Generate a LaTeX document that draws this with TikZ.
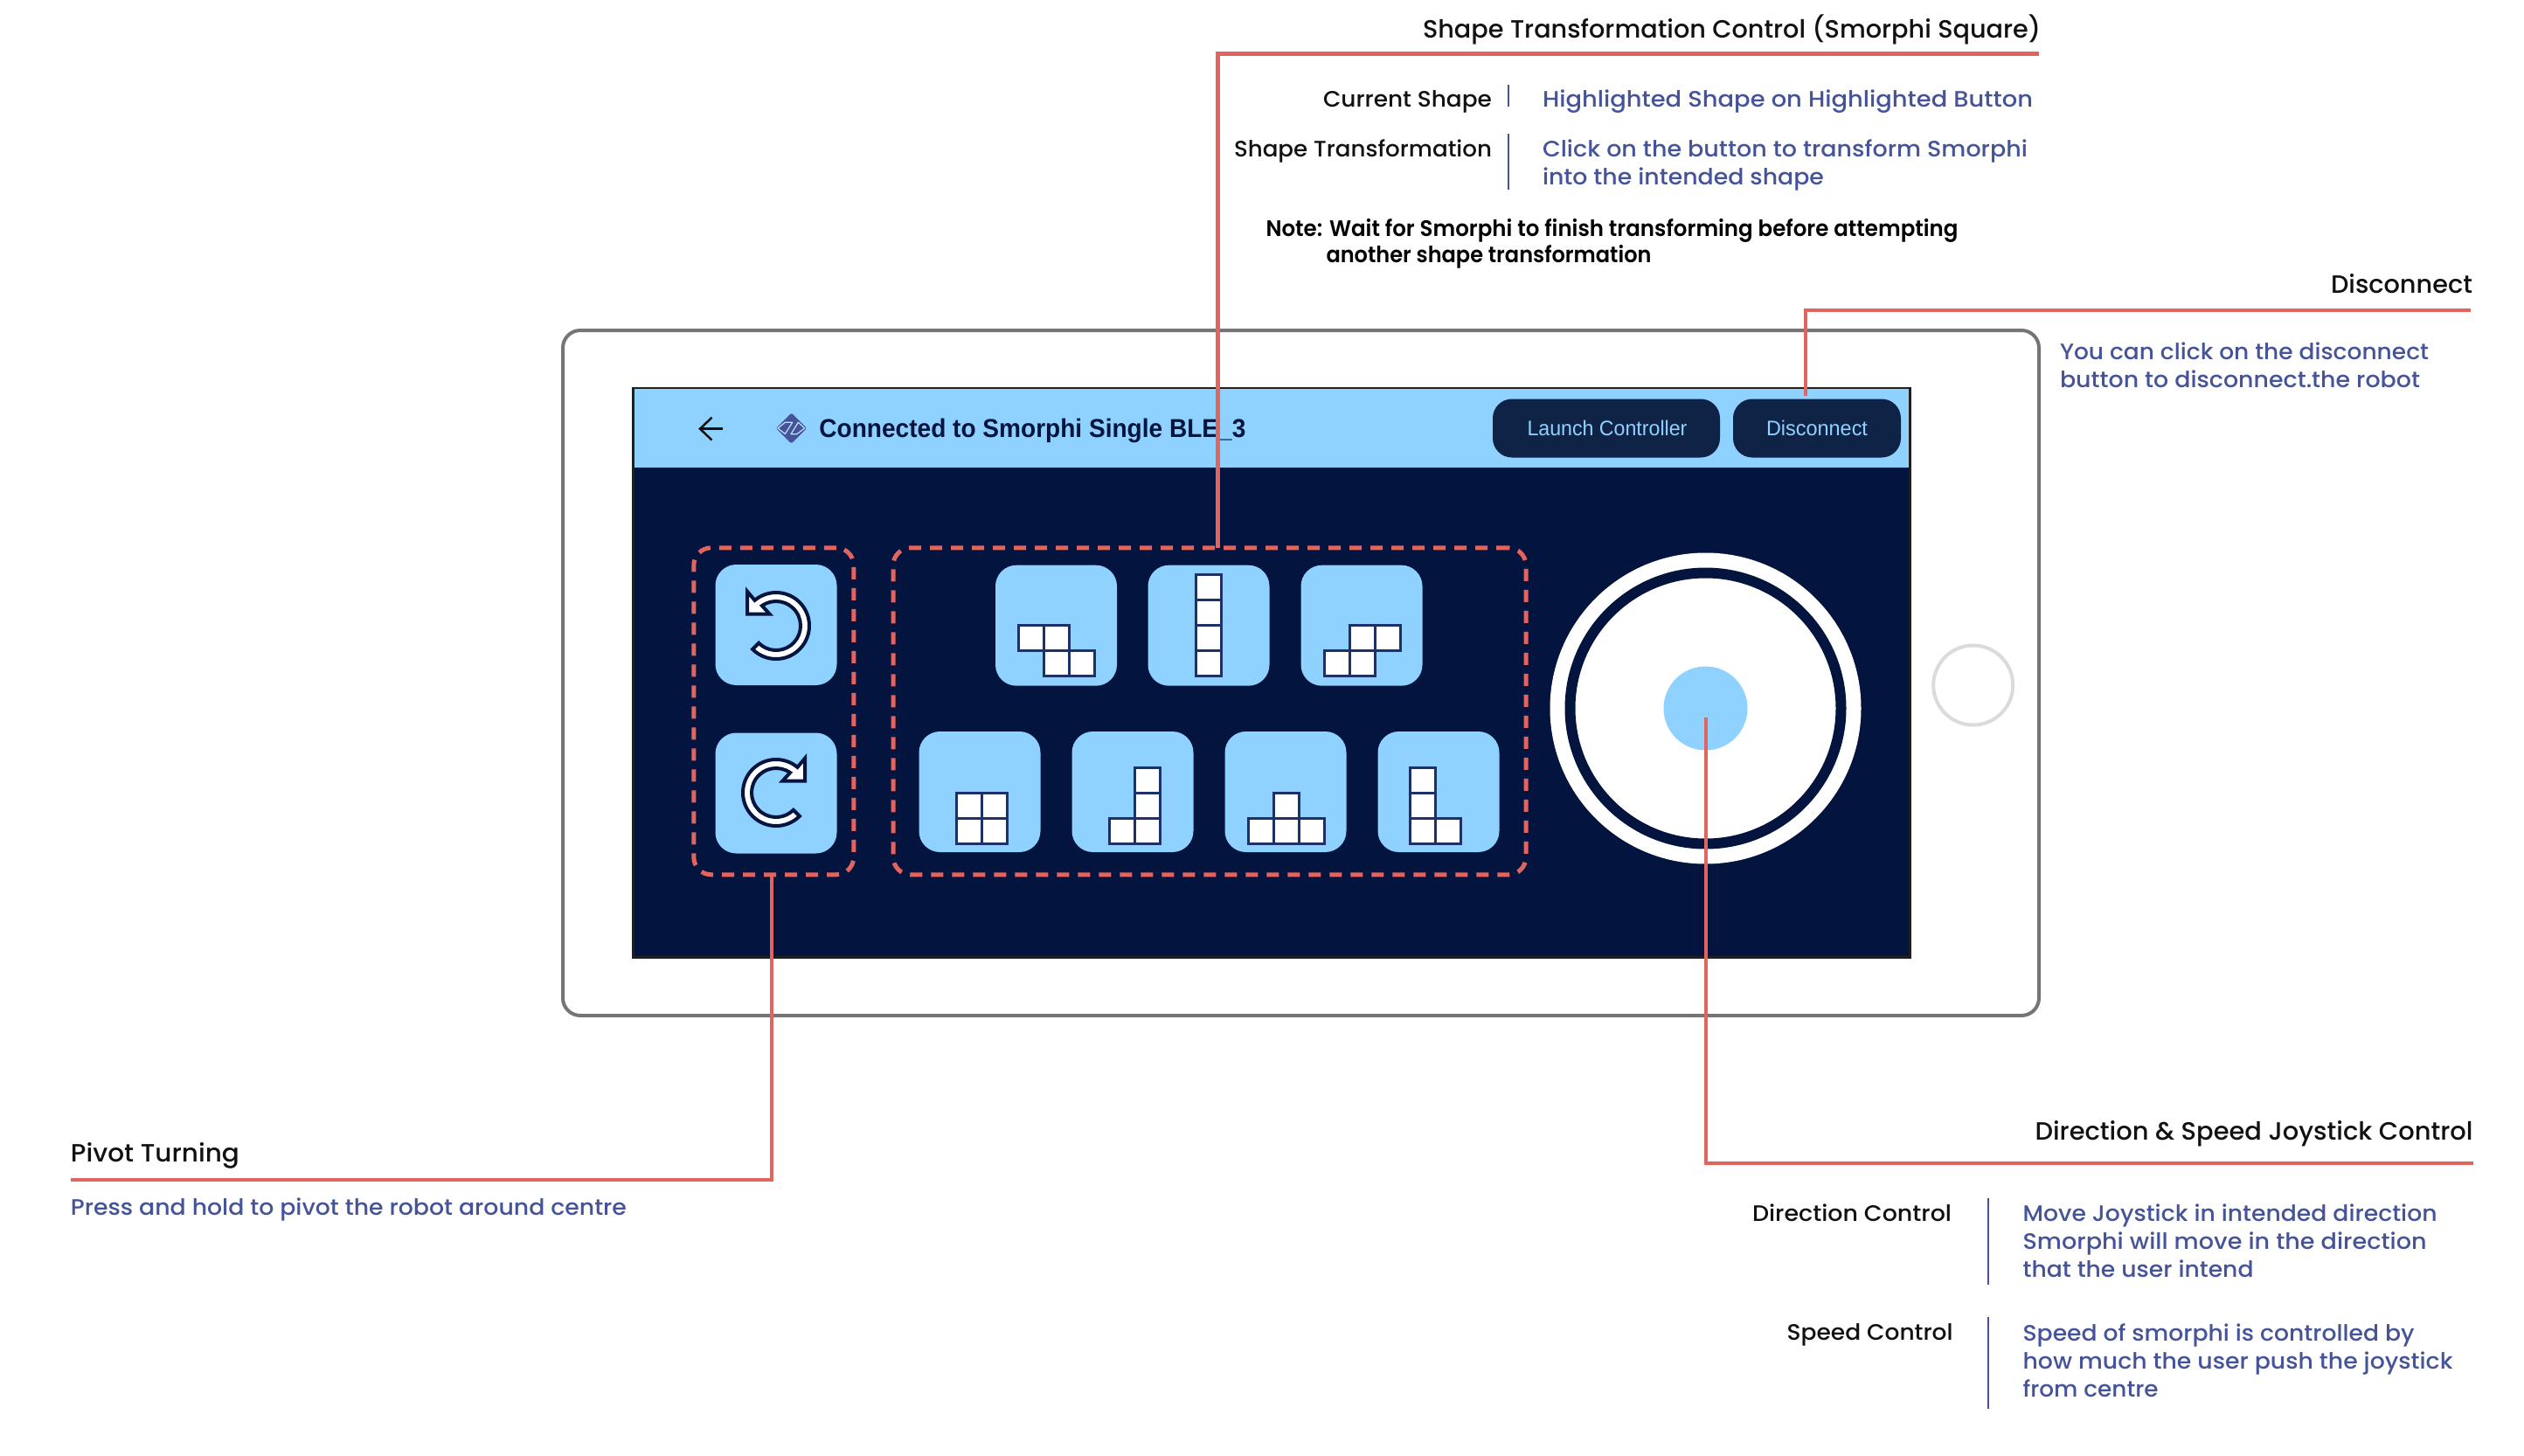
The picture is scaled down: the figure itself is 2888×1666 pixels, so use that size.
\documentclass[tikz,border=0pt]{standalone}
\usepackage{fontspec}
\setmainfont{Poppins}
\newfontfamily\medf{Poppins Medium}
\newfontfamily\notef{Poppins SemiBold}
\newfontfamily\appbold{Liberation Sans Bold}
\newfontfamily\appmed{Liberation Sans}
\usetikzlibrary{shapes.geometric}
\definecolor{skyb}{HTML}{8FD1FF}
\definecolor{navybg}{HTML}{03143F}
\definecolor{navybtn}{HTML}{0F2347}
\definecolor{redl}{HTML}{E2645F}
\definecolor{bluet}{HTML}{455398}
\definecolor{blackt}{HTML}{111111}
\definecolor{cellb}{HTML}{1C3069}
\newsavebox\fitbox
\newcommand\fitw[2]{\sbox\fitbox{#2}\pgfmathsetmacro\fitr{(#1*0.5)/(\wd\fitbox)}\scalebox{\fitr}[1]{\usebox\fitbox}}
\tikzset{
  px/.style 2 args={minimum width=#1*0.5pt,minimum height=#2*0.5pt,inner sep=0pt,outer sep=0pt},
  device/.style={draw=black!54,line width=2pt,rounded corners=10pt,fill=white},
  screen/.style={draw=black!88,line width=1.5pt,fill=navybg},
  header/.style={fill=skyb},
  sqbtn/.style={fill=skyb,rounded corners=12pt},
  topbtn/.style={fill=navybtn,rounded corners=11pt},
  dashbox/.style={draw=redl,line width=2.5pt,rounded corners=10pt,dash pattern=on 7pt off 5pt},
  redline/.style={draw=redl,line width=2.4pt,line join=miter},
  sepline/.style={draw=bluet,line width=1pt},
  title/.style={font=\medf\fontsize{14.3}{16}\selectfont,text=blackt,inner sep=0pt,outer sep=0pt},
  lab/.style={font=\medf\fontsize{12.8}{16}\selectfont,text=blackt,inner sep=0pt,outer sep=0pt},
  desc/.style={font=\medf\fontsize{12.8}{16}\selectfont,text=bluet,inner sep=0pt,outer sep=0pt,align=left},
  notet/.style={font=\notef\fontsize{12.8}{15}\selectfont,text=black,inner sep=0pt,outer sep=0pt,align=left},
  cellsq/.style={draw=cellb,line width=1.5pt,fill=white},
  rotarrow/.style={draw=navybg,line width=2pt,fill=white,line join=miter},
}
\newcommand\cellset[3]{\foreach \cx/\cy in {#3}{\draw[cellsq] (#1+\cx*29,#2+\cy*29) rectangle ++(29,29);}}
\newcommand\rotpath{(225:38) arc[start angle=225,end angle=490,radius=38] -- (-33,39.3) -- (-33,13.3) -- (-7.3,13.3) -- (125:28) arc[start angle=485,end angle=225,radius=28] -- cycle}
\begin{document}
\begin{tikzpicture}[x=0.5pt,y=-0.5pt]
\useasboundingbox (0,0) rectangle (2888,1666);
% device and screen
\node[device,px={1689}{784}] (dev) at (1488.5,770) {};
\node[draw=black!14,line width=2pt,circle,px={91}{91}] (home) at (2257.7,784) {};
\node[screen,px={1461}{651}] (scr) at (1454.5,769.5) {};
\node[header,px={1458}{90}] (head) at (1454.5,490) {};
% header content
\coordinate (backtail) at (827,490.7);
\coordinate (backtip) at (801,490.7);
\coordinate (backup) at (814.5,477.7);
\coordinate (backdn) at (814.5,503.5);
\draw[draw=blackt,line width=1.25pt] (backtail) -- (backtip);
\draw[draw=blackt,line width=1.25pt] (backup) -- (backtip) -- (backdn);
\node[diamond,fill=bluet,px={35}{35},aspect=1,rounded corners=1pt] (logo) at (905.5,490) {};
\draw[draw=skyb!60!white,line width=0.6pt,line join=round] (890,490) -- (898.3,483.3) -- (906.7,483.3) -- (898.3,496.5) -- cycle (913.3,483.3) -- (920.7,490) -- (911.7,496.7) -- (905,496.7) -- cycle;
\node[anchor=base west,font=\appbold\fontsize{14.8}{16}\selectfont,text=navybg,inner sep=0pt] (conn) at (937,500) {\fitw{488}{Connected to Smorphi Single BLE\_3}};
\node[topbtn,px={260}{67}] (launch) at (1838,490) {};
\node[anchor=base,font=\appmed\fontsize{12}{14}\selectfont,text=skyb,inner sep=0pt] (launcht) at (1839,498) {\fitw{183}{Launch Controller}};
\node[topbtn,px={192}{67}] (disc) at (2079,490) {};
\node[anchor=base,font=\appmed\fontsize{12}{14}\selectfont,text=skyb,inner sep=0pt] (disct) at (2079,498) {\fitw{116}{Disconnect}};
% pivot group
\node[dashbox,px={183}{374}] (pivot) at (885.3,813.8) {};
\node[sqbtn,px={139}{138}] (ccw) at (888,715) {};
\node[sqbtn,px={139}{138}] (cw) at (888,907.5) {};
\begin{scope}[shift={(888,716)},x=0.5pt,y=0.5pt]
\draw[rotarrow] \rotpath;
\end{scope}
\begin{scope}[shift={(888,907)},x=-0.5pt,y=0.5pt]
\draw[rotarrow] \rotpath;
\end{scope}
% shape group
\node[dashbox,px={724}{374}] (shapes) at (1384,813.8) {};
\node[sqbtn,px={139}{138}] (b1) at (1208.5,715.7) {};
\node[sqbtn,px={139}{138}] (b2) at (1383,715.7) {};
\node[sqbtn,px={139}{138}] (b3) at (1558,715.7) {};
\node[sqbtn,px={139}{138}] (b4) at (1121,906) {};
\node[sqbtn,px={139}{138}] (b5) at (1296,906) {};
\node[sqbtn,px={139}{138}] (b6) at (1471,906) {};
\node[sqbtn,px={139}{138}] (b7) at (1646,906) {};
\cellset{1165}{715.3}{0/0,1/0,1/1,2/1}
\cellset{1368.5}{657.5}{0/0,0/1,0/2,0/3}
\cellset{1515.3}{715.3}{1/0,2/0,0/1,1/1}
\cellset{1094.4}{907.3}{0/0,1/0,0/1,1/1}
\cellset{1269}{878.3}{1/0,1/1,0/2,1/2}
\cellset{1428.6}{907.3}{1/0,0/1,1/1,2/1}
\cellset{1613.8}{878.3}{0/0,0/1,0/2,1/2}
% joystick
\node[circle,fill=white,px={356}{356}] (joyo) at (1951.5,810.5) {};
\node[circle,draw=navybg,line width=6pt,fill=white,px={310}{310}] (joyr) at (1951.5,810.5) {};
\node[circle,fill=skyb,px={96}{96}] (knob) at (1951.5,810.5) {};
% connectors
\coordinate (shapecorner) at (1393.5,61.7);
\coordinate (shapeend) at (2333,61.7);
\draw[redline] (shapecorner |- shapes.north) -- (shapecorner) -- (shapeend);
\coordinate (disccorner) at (2066,355);
\coordinate (discend) at (2827,355);
\draw[redline] (disccorner |- disc.north) ++(0,-3.5) -- (disccorner) -- (discend);
\coordinate (pivcorner) at (883,1350);
\coordinate (pivend) at (81,1350);
\draw[redline] (pivcorner |- pivot.south) -- (pivcorner) -- (pivend);
\coordinate (joystart) at (1952,820.5);
\coordinate (joycorner) at (1952,1331);
\coordinate (joyend) at (2830,1331);
\draw[redline] (joystart) -- (joycorner) -- (joyend);
% shape labels
\node[title,anchor=base east] (t1) at (2335,43) {\fitw{707}{Shape Transformation Control (Smorphi Square)}};
\node[lab,anchor=base east] (l1) at (1707,122) {\fitw{193}{Current Shape}};
\coordinate (s1a) at (1726,97);
\coordinate (s1b) at (1726,122);
\draw[sepline] (s1a) -- (s1b);
\node[desc,anchor=base west] (d1) at (1765,122.5) {\fitw{561}{Highlighted Shape on Highlighted Button}};
\node[lab,anchor=base east] (l2) at (1707,179) {\fitw{295}{Shape Transformation}};
\coordinate (s2a) at (1726,153);
\coordinate (s2b) at (1726,217);
\draw[sepline] (s2a) -- (s2b);
\node[desc,anchor=base west] (d2) at (1765,211.7) {\fitw{555}{Click on the button to transform Smorphi}\\\fitw{322}{into the intended shape}};
\node[notet,anchor=base west] (note) at (1448.5,300.7) {\fitw{792}{Note: Wait for Smorphi to finish transforming before attempting}\\\hspace*{34.5pt}\fitw{372}{another shape transformation}};
% disconnect labels
\node[title,anchor=base east] (t2) at (2829,335) {\fitw{162}{Disconnect}};
\node[desc,anchor=base west] (d3) at (2357,443) {\fitw{422}{You can click on the disconnect}\\\fitw{412}{button to disconnect.the robot}};
% pivot labels
\node[title,anchor=base west] (t3) at (81,1329) {\fitw{193}{Pivot Turning}};
\node[desc,anchor=base west] (d4) at (81,1390.7) {\fitw{636}{Press and hold to pivot the robot around centre}};
% joystick labels
\node[title,anchor=base east] (t4) at (2829.5,1304) {\fitw{501}{Direction \& Speed Joystick Control}};
\node[lab,anchor=base east] (l3) at (2233,1397.7) {\fitw{228}{Direction Control}};
\coordinate (s3a) at (2275,1371);
\coordinate (s3b) at (2275,1470);
\draw[sepline] (s3a) -- (s3b);
\node[desc,anchor=base west] (d5) at (2314.6,1461.7) {\fitw{474}{Move Joystick in intended direction}\\\fitw{462}{Smorphi will move in the direction}\\\fitw{264}{that the user intend}};
\node[lab,anchor=base east] (l4) at (2234.6,1533.3) {\fitw{190}{Speed Control}};
\coordinate (s4a) at (2275,1507);
\coordinate (s4b) at (2275,1612);
\draw[sepline] (s4a) -- (s4b);
\node[desc,anchor=base west] (d6) at (2314.6,1598) {\fitw{448}{Speed of smorphi is controlled by}\\\fitw{492}{how much the user push the joystick}\\\fitw{155}{from centre}};
\end{tikzpicture}
\end{document}
